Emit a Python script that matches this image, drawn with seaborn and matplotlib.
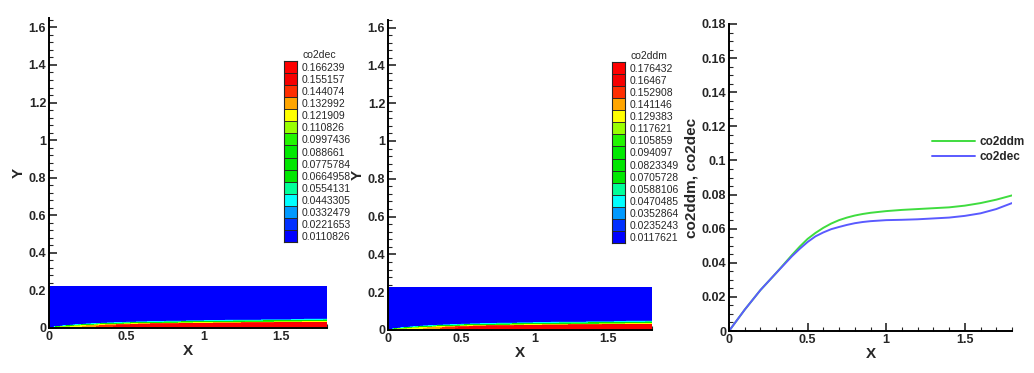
import numpy as np
import pandas as pd
import seaborn as sns
import matplotlib.pyplot as plt
from matplotlib.ticker import MultipleLocator, FormatStrFormatter

sns.set_style("ticks")
plt.rcParams['font.family'] = ['Liberation Sans', 'DejaVu Sans']
plt.rcParams['font.weight'] = 'bold'

# contour legends (level values as printed)
dec_levels = [0.166239, 0.155157, 0.144074, 0.132992, 0.121909, 0.110826,
              0.0997436, 0.088661, 0.0775784, 0.0664958, 0.0554131,
              0.0443305, 0.0332479, 0.0221653, 0.0110826]
ddm_levels = [0.176432, 0.16467, 0.152908, 0.141146, 0.129383, 0.117621,
              0.105859, 0.094097, 0.0823349, 0.0705728, 0.0588106,
              0.0470485, 0.0352864, 0.0235243, 0.0117621]
level_colors = ['#ff0000', '#f50000', '#ff2e00', '#ffa500', '#ffff00',
                '#99ff00', '#22f500', '#00ea00', '#00e600', '#00e800',
                '#00ff99', '#00ffff', '#0099ff', '#0030ff', '#0000ff']

# boundary layer near the wall
x_st = [0.0, 0.05, 0.15, 0.25, 0.35, 0.45, 0.6, 1.0, 1.5, 1.8]
wall_dec = [0.09, 0.11, 0.12, 0.135, 0.145, 0.155, 0.165, 0.172, 0.174, 0.175]
wall_ddm = [0.10, 0.12, 0.128, 0.138, 0.148, 0.16, 0.172, 0.182, 0.184, 0.185]
thick = [0.0, 0.009, 0.017, 0.023, 0.027, 0.030, 0.034, 0.040, 0.045, 0.048]
eta_pts = [0.0, 0.45, 0.6, 0.72, 0.85, 1.0, 1.15]
shape_pts = [1.0, 0.97, 0.86, 0.6, 0.35, 0.12, 0.0]
domain_h = 0.223
domain_l = 1.8

# line plot
x_line = [0.0, 0.1, 0.2, 0.3, 0.4, 0.45, 0.5, 0.55, 0.6, 0.65, 0.7, 0.75,
          0.8, 0.85, 0.9, 1.0, 1.1, 1.2, 1.3, 1.4, 1.5, 1.6, 1.7, 1.8]
co2ddm = [0.0, 0.0125, 0.024, 0.034, 0.0445, 0.0495, 0.054, 0.0575, 0.0605,
          0.063, 0.065, 0.0665, 0.0677, 0.0686, 0.0693, 0.0703, 0.071, 0.0715,
          0.072, 0.0725, 0.0735, 0.075, 0.077, 0.0795]
co2dec = [0.0, 0.0125, 0.024, 0.034, 0.0438, 0.0482, 0.0522, 0.0555, 0.0578,
          0.0597, 0.061, 0.0622, 0.0632, 0.0639, 0.0644, 0.065, 0.0652, 0.0655,
          0.066, 0.0665, 0.0675, 0.069, 0.0715, 0.075]

W, H = 1034, 373
fig = plt.figure(figsize=(W / 100, H / 100), dpi=100)
narrow = ['Liberation Sans Narrow', 'Liberation Sans']


def style_axes(ax, xmax, ymax, ymaj, ymin):
    for s in ['top', 'right']:
        ax.spines[s].set_visible(False)
    for s in ['left', 'bottom']:
        ax.spines[s].set_linewidth(1.4)
        ax.spines[s].set_color('black')
    ax.set_xlim(0, xmax)
    ax.set_ylim(0, ymax)
    ax.xaxis.set_major_locator(MultipleLocator(0.5))
    ax.xaxis.set_minor_locator(MultipleLocator(0.1))
    ax.yaxis.set_major_locator(MultipleLocator(ymaj))
    ax.yaxis.set_minor_locator(MultipleLocator(ymin))
    ax.xaxis.set_major_formatter(FormatStrFormatter('%g'))
    ax.yaxis.set_major_formatter(FormatStrFormatter('%g'))
    ax.tick_params(which='major', direction='in', length=6, width=1.2,
                   pad=2, labelsize=9)
    ax.tick_params(which='minor', direction='in', length=3, width=0.8)
    ax.set_xlabel('X', fontsize=11, fontweight='bold', labelpad=1)


def contour_panel(rect, wall, levels, title, cbar_rect, ymax):
    ax = fig.add_axes(rect)
    xg = np.linspace(0, domain_l, 300)
    yg = np.linspace(0, domain_h, 400)
    X, Y = np.meshgrid(xg, yg)
    w = np.interp(xg, x_st, wall)
    d = np.maximum(np.interp(xg, x_st, thick), 1e-4)
    Z = w[None, :] * np.interp(Y / d[None, :], eta_pts, shape_pts)
    lv = np.array(levels[::-1])
    bounds = np.concatenate([[-1], (lv[:-1] + lv[1:]) / 2, [1]])
    ax.contourf(X, Y, Z, levels=bounds, colors=level_colors[::-1])
    style_axes(ax, domain_l, ymax, 0.2, 0.04)
    ax.set_ylabel('Y', fontsize=11, fontweight='bold', labelpad=2)

    cax = fig.add_axes(cbar_rect)
    n = len(levels)
    cax.barh(np.arange(n), 1, height=1, color=level_colors[::-1],
             edgecolor='#222222', linewidth=0.6)
    cax.set_ylim(-0.5, n - 0.5)
    cax.set_xlim(0, 1)
    cax.set_xticks([])
    cax.yaxis.tick_right()
    cax.set_yticks(np.arange(n))
    cax.set_yticklabels([f'{v:g}' for v in levels[::-1]], family=narrow,
                        fontsize=7.5, fontweight='normal')
    cax.tick_params(axis='y', length=0, pad=3)
    for s in cax.spines.values():
        s.set_linewidth(0.8)
    cax.text(1.4, 1.005, title, transform=cax.transAxes, family=narrow,
             fontsize=7.5, fontweight='normal', ha='left', va='bottom')
    return ax


contour_panel([49 / W, 45 / H, 278 / W, 310 / H], wall_dec, dec_levels,
              'co2dec', [284 / W, (H - 242) / H, 13 / W, 181 / H], 1.65)
contour_panel([388 / W, 43 / H, 264 / W, 310 / H], wall_ddm, ddm_levels,
              'co2ddm', [612 / W, (H - 243) / H, 13 / W, 181 / H], 1.64)

ax3 = fig.add_axes([729 / W, 42 / H, 283 / W, 307 / H])
df = pd.DataFrame({
    'X': x_line * 2,
    'value': co2ddm + co2dec,
    'series': ['co2ddm'] * len(x_line) + ['co2dec'] * len(x_line),
})
sns.lineplot(data=df, x='X', y='value', hue='series', ax=ax3,
             palette={'co2ddm': '#3fdc3f', 'co2dec': '#5a5aff'},
             linewidth=1.4)
style_axes(ax3, 1.8, 0.18, 0.02, 0.005)
ax3.set_ylabel('co2ddm, co2dec', fontsize=11, fontweight='bold', labelpad=2)
leg = ax3.legend(frameon=False, loc='upper left', bbox_to_anchor=(0.68, 0.67),
                 handlelength=3.6, handletextpad=0.4, labelspacing=0.25,
                 prop=dict(size=8.5, weight='bold'))

fig.savefig('out.png', dpi=100)
